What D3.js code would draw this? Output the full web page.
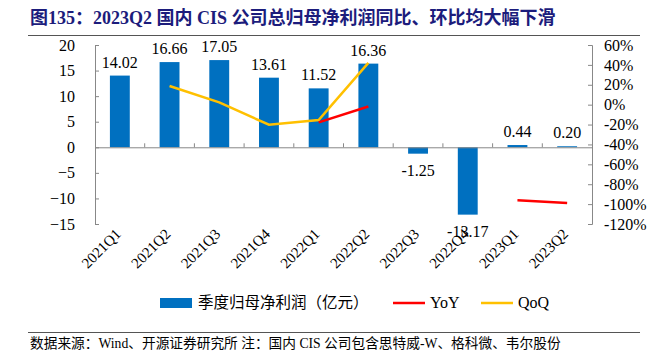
<!DOCTYPE html>
<html><head><meta charset="utf-8">
<script src="https://cdn.jsdelivr.net/npm/d3@7"></script>
<style>body{margin:0;background:#fff}svg{display:block}</style>
</head><body><svg id="c" width="662" height="356"></svg>
<script>
const categories=["2021Q1","2021Q2","2021Q3","2021Q4","2022Q1","2022Q2","2022Q3","2022Q4","2023Q1","2023Q2"];
const profit=[14.02,16.66,17.05,13.61,11.52,16.36,-1.25,-13.17,0.44,0.20];
const yoy=[null,null,null,null,-17.8,-1.8,null,null,-96.2,-98.8];
const qoq=[null,18.8,2.3,-20.2,-15.4,42.0,null,null,null,null];
const leftTicks=[20,15,10,5,0,-5,-10,-15];
const rightTicks=[60,40,20,0,-20,-40,-60,-80,-100,-120];

const svg=d3.select("#c");
const serif="'Liberation Serif','Times New Roman',serif";
const cjk="'Liberation Serif','Noto Sans CJK SC',serif";
const L=95,R=592,T=45,B=224;
const x=d3.scaleBand().domain(categories).range([L,R]).paddingInner(0.6).paddingOuter(0.3);
const xb=d3.scaleBand().domain(categories).range([L,R]);
const y=d3.scaleLinear().domain([-15,20]).range([B,T]);
const y2=d3.scaleLinear().domain([-120,60]).range([B,T]);

// title
svg.append("text").attr("x",30).attr("y",24).attr("font-family","'Liberation Serif','Noto Sans CJK SC',serif")
  .attr("font-weight","bold").attr("font-size",18).attr("fill","#1c1c7c")
  .text("图135：2023Q2 国内 CIS 公司总归母净利润同比、环比均大幅下滑");
svg.append("line").attr("x1",28).attr("x2",640).attr("y1",35.5).attr("y2",35.5).attr("stroke","#555").attr("stroke-width",1);

// bars
svg.selectAll("rect.bar").data(profit).join("rect").attr("class","bar")
  .attr("x",(d,i)=>x(categories[i])).attr("width",x.bandwidth())
  .attr("y",d=>y(Math.max(0,d))).attr("height",d=>Math.abs(y(d)-y(0)))
  .attr("fill","#0070c0");

// left axis
const la=svg.append("g").attr("transform",`translate(${L},0)`)
  .call(d3.axisLeft(y).tickValues(leftTicks).tickSize(-4).tickPadding(20).tickFormat(d3.format("d")));
la.select(".domain").attr("stroke","#888");
la.selectAll(".tick line").attr("stroke","#888");
la.selectAll("text").attr("font-family",serif).attr("font-size",16).attr("fill","#000");

// right axis
const ra=svg.append("g").attr("transform",`translate(${R},0)`)
  .call(d3.axisRight(y2).tickValues(rightTicks).tickSize(-4).tickPadding(12).tickFormat(d=>d+"%"));
ra.select(".domain").attr("stroke","#888");
ra.selectAll(".tick line").attr("stroke","#888");
ra.selectAll("text").attr("font-family",serif).attr("font-size",16).attr("fill","#000");

// x axis at zero
const xa=svg.append("g").attr("transform",`translate(0,${y(0)})`)
  .call(d3.axisBottom(xb).tickSize(0).tickFormat(""));
xa.select(".domain").attr("stroke","#888");
svg.selectAll("line.xt").data(categories.slice(1)).join("line").attr("class","xt")
  .attr("x1",d=>xb(d)).attr("x2",d=>xb(d)).attr("y1",y(0)).attr("y2",y(0)-4).attr("stroke","#888");

// x labels
svg.selectAll("text.xl").data(categories).join("text").attr("class","xl")
  .attr("transform",d=>`translate(${xb(d)+xb.bandwidth()/2+2},${235}) rotate(-45)`)
  .attr("text-anchor","end").attr("font-family",serif).attr("font-size",15).text(d=>d);

// value labels
svg.selectAll("text.vl").data(profit).join("text").attr("class","vl")
  .attr("x",(d,i)=>x(categories[i])+x.bandwidth()/2)
  .attr("y",d=>d>=0?y(d)-8:y(d)+22)
  .attr("text-anchor","middle").attr("font-family",serif).attr("font-size",16).text(d=>d.toFixed(2));

// lines
const line=d3.line().defined(d=>d.v!==null).x(d=>xb(d.c)+xb.bandwidth()/2).y(d=>y2(d.v));
svg.append("path").datum(qoq.map((v,i)=>({c:categories[i],v}))).attr("d",line)
  .attr("fill","none").attr("stroke","#ffc000").attr("stroke-width",2.5);
svg.append("path").datum(yoy.map((v,i)=>({c:categories[i],v}))).attr("d",line)
  .attr("fill","none").attr("stroke","#ff0000").attr("stroke-width",2.5);

// legend
const lg=svg.append("g");
lg.append("rect").attr("x",160).attr("y",298).attr("width",32).attr("height",10).attr("fill","#0070c0");
lg.append("text").attr("x",198).attr("y",308).attr("font-family",cjk).attr("font-size",15.5).text("季度归母净利润（亿元）");
lg.append("line").attr("x1",393).attr("x2",425).attr("y1",303).attr("y2",303).attr("stroke","#ff0000").attr("stroke-width",2.5);
lg.append("text").attr("x",430).attr("y",308).attr("font-family",serif).attr("font-size",16).text("YoY");
lg.append("line").attr("x1",481).attr("x2",513).attr("y1",303).attr("y2",303).attr("stroke","#ffc000").attr("stroke-width",2.5);
lg.append("text").attr("x",518).attr("y",308).attr("font-family",serif).attr("font-size",16).text("QoQ");

// footer
svg.append("line").attr("x1",28).attr("x2",640).attr("y1",332.5).attr("y2",332.5).attr("stroke","#555").attr("stroke-width",1);
svg.append("text").attr("x",30).attr("y",348).attr("font-family",cjk).attr("font-size",13.7)
  .text("数据来源：Wind、开源证券研究所 注：国内 CIS 公司包含思特威-W、格科微、韦尔股份");
</script></body></html>
